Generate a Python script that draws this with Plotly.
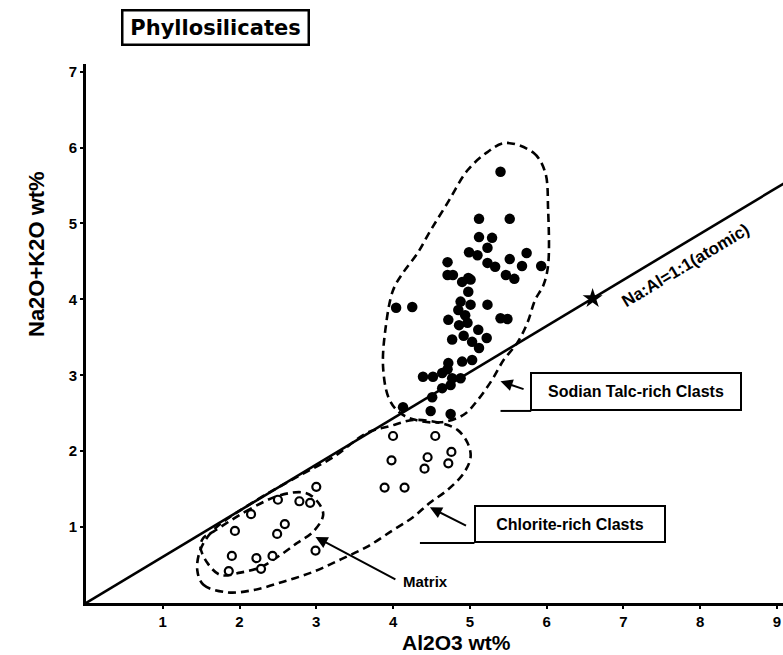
import plotly.graph_objects as go

# --- data (wt%) ---------------------------------------------------------
# Sodian talc-rich clasts (filled symbols)
talc_al2o3 = [5.40, 5.12, 5.52, 5.12, 5.29, 5.23, 4.99, 5.10, 5.74, 4.71,
              5.23, 5.33, 5.52, 5.68, 5.93, 4.71, 4.78, 4.98, 5.47, 5.58,
              4.90, 5.01, 4.98, 4.04, 4.25, 4.88, 5.01, 4.85, 5.23, 5.40,
              5.49, 4.72, 4.94, 4.86, 4.97, 5.11, 4.92, 4.77, 5.03, 5.22,
              5.12, 4.72, 4.90, 5.03, 4.39, 4.52, 4.64, 4.71, 4.77, 4.88,
              4.75, 4.64, 4.51, 4.13, 4.49, 4.75]
talc_alk = [5.68, 5.06, 5.06, 4.82, 4.81, 4.68, 4.62, 4.58, 4.61, 4.49,
            4.48, 4.43, 4.53, 4.44, 4.44, 4.32, 4.32, 4.28, 4.32, 4.27,
            4.23, 4.26, 4.10, 3.89, 3.90, 3.97, 3.93, 3.86, 3.93, 3.75,
            3.74, 3.73, 3.79, 3.66, 3.69, 3.60, 3.52, 3.47, 3.44, 3.49,
            3.36, 3.16, 3.18, 3.20, 2.98, 2.98, 3.03, 3.08, 2.96, 2.96,
            2.87, 2.83, 2.71, 2.58, 2.53, 2.49]

# Chlorite-rich clasts (open symbols)
chl_al2o3 = [4.00, 4.55, 3.98, 4.45, 4.41, 4.76, 4.72, 3.89, 4.15]
chl_alk = [2.20, 2.20, 1.88, 1.92, 1.77, 1.99, 1.84, 1.52, 1.52]

# Matrix (open symbols)
mtx_al2o3 = [3.00, 2.50, 2.78, 2.92, 2.15, 1.94, 2.59, 2.49, 1.90, 2.22,
             2.43, 1.86, 2.28, 2.99]
mtx_alk = [1.53, 1.36, 1.34, 1.32, 1.17, 0.95, 1.04, 0.91, 0.62, 0.59,
           0.62, 0.42, 0.45, 0.69]

# Field outlines (Al2O3, Na2O+K2O)
talc_field_x = [5.46, 5.83, 5.98, 6.02, 6.02, 5.96, 5.85, 5.75, 5.62, 5.44,
                5.29, 5.10, 4.92, 4.62, 4.26, 4.07, 3.94, 3.87, 3.90, 4.00,
                4.13, 4.32, 4.49, 4.71, 4.97, 5.23, 5.46]
talc_field_y = [6.06, 5.93, 5.68, 5.18, 4.45, 4.19, 3.99, 3.69, 3.43, 3.20,
                2.94, 2.67, 2.48, 2.38, 2.42, 2.52, 2.71, 3.11, 3.60, 4.12,
                4.35, 4.61, 4.91, 5.27, 5.70, 5.94, 6.06]
chl_field_x = [1.45, 1.53, 1.84, 2.18, 2.57, 2.96, 3.31, 3.66, 4.00, 4.26,
               4.48, 4.71, 4.92, 5.01, 4.97, 4.84, 4.62, 4.26, 3.96, 3.66,
               3.22, 2.75, 2.23, 1.66, 1.49, 1.45]
chl_field_y = [0.43, 0.24, 0.14, 0.17, 0.28, 0.41, 0.57, 0.74, 0.96, 1.13,
               1.32, 1.49, 1.71, 1.92, 2.11, 2.28, 2.37, 2.41, 2.33, 2.24,
               1.92, 1.66, 1.36, 0.96, 0.70, 0.43]
mtx_field_x = [1.66, 2.07, 2.53, 2.86, 3.02, 3.09, 2.96, 2.75, 2.53, 2.27,
               2.01, 1.75, 1.58, 1.49, 1.53, 1.66]
mtx_field_y = [0.94, 1.20, 1.42, 1.45, 1.33, 1.16, 0.94, 0.79, 0.63, 0.47,
               0.40, 0.37, 0.53, 0.74, 0.86, 0.94]

# Na:Al = 1:1 (atomic) expressed as a Na2O / Al2O3 weight ratio
M_NA2O = 61.98
M_AL2O3 = 101.96
star_al2o3 = 6.6

x_ticks = [1, 2, 3, 4, 5, 6, 7, 8, 9]
y_ticks = [1, 2, 3, 4, 5, 6, 7]

# --- figure -------------------------------------------------------------
ratio = M_NA2O / M_AL2O3
FONT = "Liberation Sans"
dash = "8px,5px"

fig = go.Figure()

for fx, fy in [(talc_field_x, talc_field_y), (chl_field_x, chl_field_y),
               (mtx_field_x, mtx_field_y)]:
    fig.add_trace(go.Scatter(
        x=fx, y=fy, mode="lines",
        line=dict(color="black", width=2.6, dash=dash, shape="spline",
                  smoothing=1.0),
        hoverinfo="skip", showlegend=False))

line_x = [0, 9.5]
fig.add_trace(go.Scatter(
    x=line_x, y=[v * ratio for v in line_x], mode="lines",
    line=dict(color="black", width=2.6), showlegend=False))

fig.add_trace(go.Scatter(
    x=[star_al2o3], y=[star_al2o3 * ratio], mode="markers",
    marker=dict(symbol="star", size=15, color="black"), showlegend=False))

fig.add_trace(go.Scatter(
    x=talc_al2o3, y=talc_alk, mode="markers",
    marker=dict(symbol="circle", size=10.5, color="black", line=dict(width=0)),
    name="Sodian Talc-rich Clasts", showlegend=False))

for xs, ys, nm in [(chl_al2o3, chl_alk, "Chlorite-rich Clasts"),
                   (mtx_al2o3, mtx_alk, "Matrix")]:
    fig.add_trace(go.Scatter(
        x=xs, y=ys, mode="markers",
        marker=dict(symbol="circle", size=8, color="white",
                    line=dict(color="black", width=2.2)),
        name=nm, showlegend=False))

# labelled boxes with their underline and arrow
box_font = dict(family=FONT, size=16, color="black", weight="bold")
fig.add_annotation(x=7.17, y=2.78, xref="x", yref="y",
                   xanchor="center", yanchor="middle",
                   text="Sodian Talc-rich Clasts", showarrow=False,
                   font=box_font, bordercolor="black", borderwidth=2,
                   borderpad=1, width=206, height=33, bgcolor="white")
fig.add_shape(type="line", x0=5.40, x1=5.80, y0=2.53, y1=2.53,
              line=dict(color="black", width=2))
fig.add_annotation(x=5.40, y=2.92, ax=5.72, ay=2.81, axref="x", ayref="y",
                   xref="x", yref="y", text="", showarrow=True,
                   arrowhead=2, arrowsize=1.2, arrowwidth=2,
                   arrowcolor="black")

fig.add_annotation(x=6.30, y=1.04, xref="x", yref="y",
                   xanchor="center", yanchor="middle",
                   text="Chlorite-rich Clasts", showarrow=False,
                   font=box_font, bordercolor="black", borderwidth=2,
                   borderpad=1, width=186, height=32, bgcolor="white")
fig.add_shape(type="line", x0=4.35, x1=5.06, y0=0.79, y1=0.79,
              line=dict(color="black", width=2))
fig.add_annotation(x=4.48, y=1.26, ax=4.97, ay=1.01, axref="x", ayref="y",
                   xref="x", yref="y", text="", showarrow=True,
                   arrowhead=2, arrowsize=1.2, arrowwidth=2,
                   arrowcolor="black")

fig.add_annotation(x=4.42, y=0.28, xref="x", yref="y", text="Matrix",
                   xanchor="center", yanchor="middle",
                   showarrow=False, font=dict(family=FONT, size=15,
                                              color="black", weight="bold"))
fig.add_annotation(x=2.99, y=0.87, ax=4.05, ay=0.30, axref="x", ayref="y",
                   xref="x", yref="y", text="", showarrow=True,
                   arrowhead=2, arrowsize=1.2, arrowwidth=2,
                   arrowcolor="black")

fig.add_annotation(x=7.81, y=4.45, xref="x", yref="y",
                   xanchor="center", yanchor="middle",
                   text="Na:Al=1:1(atomic)", showarrow=False, textangle=-31,
                   font=dict(family=FONT, size=17, color="black",
                             weight="bold"))

# panel title
fig.add_annotation(x=0.1865, y=1.067, xref="paper", yref="paper",
                   xanchor="center", yanchor="middle",
                   text="Phyllosilicates", showarrow=False,
                   font=dict(family="DejaVu Sans", size=21, color="black",
                             weight="bold"),
                   bordercolor="black", borderwidth=2.5, borderpad=1,
                   width=182, height=30, bgcolor="white")

# axis titles
fig.add_annotation(x=-0.0703, y=0.6475, xref="paper", yref="paper",
                   xanchor="center", yanchor="middle",
                   text="Na2O+K2O wt%", textangle=-90, showarrow=False,
                   font=dict(family=FONT, size=22, color="black",
                             weight="bold"))
fig.add_annotation(x=0.531, y=-0.0725, xref="paper", yref="paper",
                   xanchor="center", yanchor="middle",
                   text="Al2O3 wt%", showarrow=False,
                   font=dict(family=FONT, size=21, color="black",
                             weight="bold"))

axis_common = dict(showgrid=False, zeroline=False, showline=True,
                   linecolor="black", linewidth=3, ticks="outside",
                   ticklen=3, tickwidth=2, tickcolor="black",
                   tickfont=dict(family=FONT, size=15, color="black",
                                 weight="bold"))
fig.update_xaxes(range=[0, 9.08], tickvals=x_ticks, **axis_common)
fig.update_yaxes(range=[0, 7.1], tickvals=y_ticks, **axis_common)

fig.update_layout(width=783, height=655, plot_bgcolor="white",
                  paper_bgcolor="white",
                  margin=dict(l=86, r=0, t=64, b=52), showlegend=False)

fig.write_html("out.html")
